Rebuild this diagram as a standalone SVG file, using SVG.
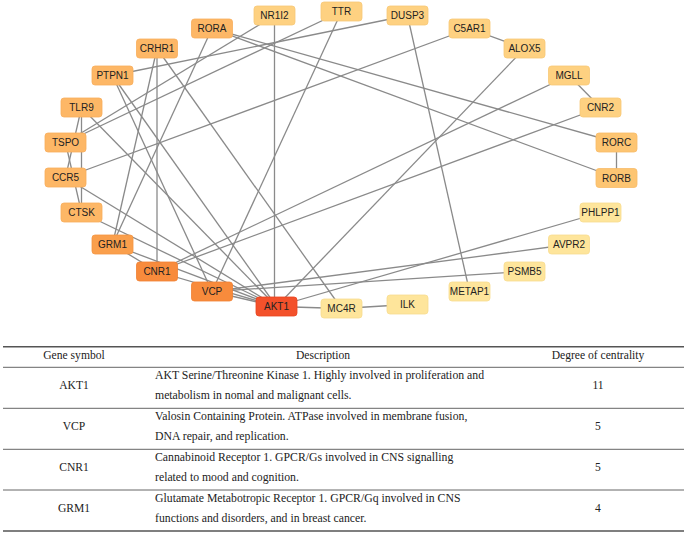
<svg xmlns="http://www.w3.org/2000/svg" width="685" height="533" viewBox="0 0 685 533">
<style>
.bg{fill:#ffffff}
.e{stroke:#8a8a8a;stroke-width:1.3;fill:none}
.n rect{stroke-width:0.8}
.n text{font-family:"Liberation Sans",Arial,sans-serif;font-size:10px;fill:#222;text-anchor:middle}
.c0 rect{fill:#f3512b;stroke:#e8441f}
.c1 rect{fill:#f88b3c;stroke:#f08032}
.c2 rect{fill:#fa9f4c;stroke:#f49543}
.c3 rect{fill:#fdb766;stroke:#f8ad5c}
.c4 rect{fill:#fdc572;stroke:#f7bb68}
.c5 rect{fill:#fed181;stroke:#f8c876}
.c6 rect{fill:#fee59b;stroke:#f8dc90}
.t text{font-family:"Liberation Serif","Times New Roman",serif;font-size:11.6px;fill:#222}
.t .d{font-size:11.75px}
.t .m{text-anchor:middle}
.tl{stroke:#666;stroke-width:1}
.tb{stroke:#555;stroke-width:1.6}
</style>
<rect class="bg" x="0" y="0" width="685" height="533"/>
<g id="edges">
<line class="e" x1="276.5" y1="306.5" x2="341.5" y2="308.5"/>
<line class="e" x1="274.5" y1="306.5" x2="274.5" y2="15.5"/>
<line class="e" x1="276.5" y1="306.5" x2="524.5" y2="48.5"/>
<line class="e" x1="276.5" y1="306.5" x2="600.5" y2="212.5"/>
<line class="e" x1="276.5" y1="306.5" x2="212" y2="291.5"/>
<line class="e" x1="276.5" y1="306.5" x2="157" y2="271.5"/>
<line class="e" x1="276.5" y1="306.5" x2="112.5" y2="244.5"/>
<line class="e" x1="276.5" y1="306.5" x2="81.5" y2="212.5"/>
<line class="e" x1="276.5" y1="306.5" x2="65.5" y2="177.5"/>
<line class="e" x1="276.5" y1="306.5" x2="81.5" y2="107.5"/>
<line class="e" x1="276.5" y1="306.5" x2="112.5" y2="75.5"/>
<line class="e" x1="212" y1="291.5" x2="341.5" y2="11.5"/>
<line class="e" x1="212" y1="291.5" x2="112.5" y2="75.5"/>
<line class="e" x1="212" y1="291.5" x2="569" y2="244.5"/>
<line class="e" x1="212" y1="291.5" x2="524.5" y2="271.5"/>
<line class="e" x1="157" y1="271.5" x2="157" y2="48.5"/>
<line class="e" x1="157" y1="271.5" x2="112.5" y2="244.5"/>
<line class="e" x1="157" y1="271.5" x2="569" y2="75.5"/>
<line class="e" x1="157" y1="271.5" x2="600.5" y2="107.5"/>
<line class="e" x1="112.5" y1="244.5" x2="157" y2="48.5"/>
<line class="e" x1="112.5" y1="244.5" x2="212" y2="28.5"/>
<line class="e" x1="157" y1="48.5" x2="341.5" y2="308.5"/>
<line class="e" x1="212" y1="28.5" x2="616.5" y2="142.5"/>
<line class="e" x1="212" y1="28.5" x2="616.5" y2="178"/>
<line class="e" x1="616.5" y1="142.5" x2="616.5" y2="178"/>
<line class="e" x1="274.5" y1="15.5" x2="65.5" y2="142.5"/>
<line class="e" x1="341.5" y1="11.5" x2="65.5" y2="142.5"/>
<line class="e" x1="407.5" y1="15.5" x2="112.5" y2="75.5"/>
<line class="e" x1="407.5" y1="15.5" x2="469.5" y2="291.5"/>
<line class="e" x1="469.5" y1="28.5" x2="65.5" y2="177.5"/>
<line class="e" x1="469.5" y1="28.5" x2="524.5" y2="48.5"/>
<line class="e" x1="569" y1="75.5" x2="600.5" y2="107.5"/>
<line class="e" x1="81.5" y1="107.5" x2="65.5" y2="177.5"/>
<line class="e" x1="81.5" y1="107.5" x2="81.5" y2="212.5"/>
<line class="e" x1="65.5" y1="142.5" x2="81.5" y2="212.5"/>
<line class="e" x1="341.5" y1="308.5" x2="407.5" y2="304.5"/>
</g>
<g id="node-RORA" class="n c3"><rect x="191.5" y="19" width="41" height="19" rx="3"/><text x="212" y="32">RORA</text></g>
<g id="node-NR1I2" class="n c5"><rect x="254" y="6" width="41" height="19" rx="3"/><text x="274.5" y="19">NR1I2</text></g>
<g id="node-TTR" class="n c5"><rect x="321" y="2" width="41" height="19" rx="3"/><text x="341.5" y="15">TTR</text></g>
<g id="node-DUSP3" class="n c5"><rect x="387" y="6" width="41" height="19" rx="3"/><text x="407.5" y="19">DUSP3</text></g>
<g id="node-C5AR1" class="n c5"><rect x="449" y="19" width="41" height="19" rx="3"/><text x="469.5" y="32">C5AR1</text></g>
<g id="node-ALOX5" class="n c5"><rect x="504" y="39" width="41" height="19" rx="3"/><text x="524.5" y="52">ALOX5</text></g>
<g id="node-MGLL" class="n c5"><rect x="548.5" y="66" width="41" height="19" rx="3"/><text x="569" y="79">MGLL</text></g>
<g id="node-CNR2" class="n c5"><rect x="580" y="98" width="41" height="19" rx="3"/><text x="600.5" y="111">CNR2</text></g>
<g id="node-RORC" class="n c4"><rect x="596" y="133" width="41" height="19" rx="3"/><text x="616.5" y="146">RORC</text></g>
<g id="node-RORB" class="n c4"><rect x="596" y="168.5" width="41" height="19" rx="3"/><text x="616.5" y="181.5">RORB</text></g>
<g id="node-PHLPP1" class="n c6"><rect x="580" y="203" width="41" height="19" rx="3"/><text x="600.5" y="216">PHLPP1</text></g>
<g id="node-AVPR2" class="n c6"><rect x="548.5" y="235" width="41" height="19" rx="3"/><text x="569" y="248">AVPR2</text></g>
<g id="node-PSMB5" class="n c6"><rect x="504" y="262" width="41" height="19" rx="3"/><text x="524.5" y="275">PSMB5</text></g>
<g id="node-METAP1" class="n c6"><rect x="449" y="282" width="41" height="19" rx="3"/><text x="469.5" y="295">METAP1</text></g>
<g id="node-ILK" class="n c6"><rect x="387" y="295" width="41" height="19" rx="3"/><text x="407.5" y="308">ILK</text></g>
<g id="node-MC4R" class="n c6"><rect x="321" y="299" width="41" height="19" rx="3"/><text x="341.5" y="312">MC4R</text></g>
<g id="node-AKT1" class="n c0"><rect x="256" y="297" width="41" height="19" rx="3"/><text x="276.5" y="310">AKT1</text></g>
<g id="node-VCP" class="n c1"><rect x="191.5" y="282" width="41" height="19" rx="3"/><text x="212" y="295">VCP</text></g>
<g id="node-CNR1" class="n c1"><rect x="136.5" y="262" width="41" height="19" rx="3"/><text x="157" y="275">CNR1</text></g>
<g id="node-GRM1" class="n c2"><rect x="92" y="235" width="41" height="19" rx="3"/><text x="112.5" y="248">GRM1</text></g>
<g id="node-CTSK" class="n c3"><rect x="61" y="203" width="41" height="19" rx="3"/><text x="81.5" y="216">CTSK</text></g>
<g id="node-CCR5" class="n c3"><rect x="45" y="168" width="41" height="19" rx="3"/><text x="65.5" y="181">CCR5</text></g>
<g id="node-TSPO" class="n c3"><rect x="45" y="133" width="41" height="19" rx="3"/><text x="65.5" y="146">TSPO</text></g>
<g id="node-TLR9" class="n c3"><rect x="61" y="98" width="41" height="19" rx="3"/><text x="81.5" y="111">TLR9</text></g>
<g id="node-PTPN1" class="n c3"><rect x="92" y="66" width="41" height="19" rx="3"/><text x="112.5" y="79">PTPN1</text></g>
<g id="node-CRHR1" class="n c3"><rect x="136.5" y="39" width="41" height="19" rx="3"/><text x="157" y="52">CRHR1</text></g>
<g id="table" class="t">
<line class="tb" x1="3" y1="346.7" x2="684" y2="346.7"/>
<line class="tl" x1="3" y1="367.3" x2="684" y2="367.3"/>
<line class="tl" x1="3" y1="408.3" x2="684" y2="408.3"/>
<line class="tl" x1="3" y1="449.3" x2="684" y2="449.3"/>
<line class="tl" x1="3" y1="490" x2="684" y2="490"/>
<line class="tb" x1="3" y1="531" x2="684" y2="531"/>
<text class="m" x="74" y="358.5">Gene symbol</text>
<text class="m" x="323" y="358.5">Description</text>
<text class="m" x="598" y="358.5">Degree of centrality</text>
<text class="m" x="74" y="389">AKT1</text>
<text class="d" x="155" y="378.5">AKT Serine/Threonine Kinase 1. Highly involved in proliferation and</text>
<text class="d" x="155" y="398.5">metabolism in nomal and malignant cells.</text>
<text class="m" x="598" y="389">11</text>
<text class="m" x="74" y="430">VCP</text>
<text class="d" x="155" y="419.5">Valosin Containing Protein. ATPase involved in membrane fusion,</text>
<text class="d" x="155" y="439.5">DNA repair, and replication.</text>
<text class="m" x="598" y="430">5</text>
<text class="m" x="74" y="471">CNR1</text>
<text class="d" x="155" y="460.5">Cannabinoid Receptor 1. GPCR/Gs involved in CNS signalling</text>
<text class="d" x="155" y="480.5">related to mood and cognition.</text>
<text class="m" x="598" y="471">5</text>
<text class="m" x="74" y="512">GRM1</text>
<text class="d" x="155" y="501.5">Glutamate Metabotropic Receptor 1. GPCR/Gq involved in CNS</text>
<text class="d" x="155" y="521.5">functions and disorders, and in breast cancer.</text>
<text class="m" x="598" y="512">4</text>
</g>
</svg>
